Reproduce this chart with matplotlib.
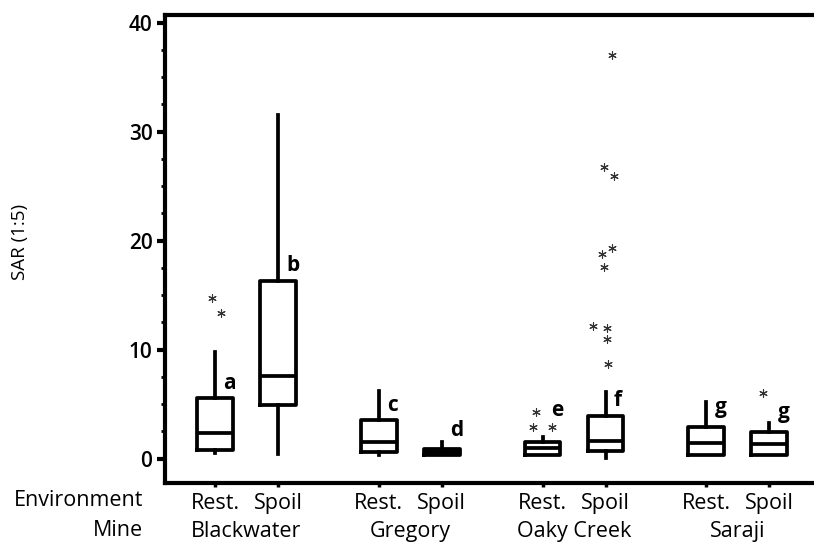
import numpy as np
import matplotlib
matplotlib.use('Agg')
import matplotlib.pyplot as plt
from matplotlib.transforms import blended_transform_factory

plt.rcParams['font.family'] = ['Open Sans', 'DejaVu Sans']

# dados
minas = ['Blackwater', 'Gregory', 'Oaky Creek', 'Saraji']
ambientes = ['Rest.', 'Spoil']
posicoes = [0, 1, 2.6, 3.6, 5.2, 6.2, 7.8, 8.8]

q1 = [0.8, 4.95, 0.6, 0.3, 0.35, 0.65, 0.3, 0.35]
mediana = [2.3, 7.55, 1.55, 0.57, 0.95, 1.65, 1.4, 1.35]
q3 = [5.6, 16.3, 3.5, 0.85, 1.5, 3.95, 2.9, 2.4]
bigode_inf = [0.55, 0.45, 0.3, 0.3, 0.35, 0.03, 0.3, 0.35]
bigode_sup = [9.75, 31.5, 6.2, 1.55, 1.95, 6.15, 5.2, 3.25]

# outliers (indice da caixa, deslocamento em x, valor)
out_caixa = [0, 0, 4, 4, 4, 5, 5, 5, 5, 5, 5, 5, 5, 5, 5, 7]
out_dx = [-0.05, 0.1, -0.1, -0.15, 0.15, 0.1, -0.02, 0.14, 0.1, -0.05, -0.03,
          -0.2, 0.02, 0.02, 0.04, -0.1]
out_val = [14.7, 13.4, 4.3, 2.9, 2.9, 37.0, 26.8, 25.9, 19.3, 18.8, 17.6,
           12.2, 11.95, 11.0, 8.7, 6.0]

letras = ['a', 'b', 'c', 'd', 'e', 'f', 'g', 'g']
letras_y = [6.9, 17.7, 4.9, 2.6, 4.4, 5.3, 4.7, 4.2]

fig = plt.figure(figsize=(8.14, 5.44), dpi=100)
ax = fig.add_axes([0.2027, 0.112, 0.7973, 0.86])

stats = []
for i in range(len(posicoes)):
    stats.append({'med': mediana[i], 'q1': q1[i], 'q3': q3[i],
                  'whislo': bigode_inf[i], 'whishi': bigode_sup[i], 'fliers': []})

estilo = dict(color='black', linewidth=2.7)
ax.bxp(stats, positions=posicoes, widths=0.57, showcaps=False,
       boxprops=estilo, medianprops=estilo, whiskerprops=estilo,
       manage_ticks=False)

ox = [posicoes[c] + d for c, d in zip(out_caixa, out_dx)]
ax.scatter(ox, out_val, marker=(6, 2, 0), s=30, color='#333333', linewidths=0.8)

for p, l, y in zip(posicoes, letras, letras_y):
    ax.text(p + 0.13, y, l, fontsize=15, fontweight='bold', ha='left', va='center')

ax.set_xlim(-0.794, 9.51)
ax.set_ylim(-2.25, 40.69)

ax.spines['right'].set_visible(False)
for s in ['left', 'top', 'bottom']:
    ax.spines[s].set_linewidth(3)

ax.set_yticks([0, 10, 20, 30, 40])
ax.set_yticks(np.arange(0, 40.1, 2.5), minor=True)
ax.tick_params(axis='y', which='major', length=6, width=3, labelsize=15, pad=3)
ax.tick_params(axis='y', which='minor', length=3, width=2)
for t in ax.get_yticklabels():
    t.set_fontweight('semibold')

ax.set_xticks(posicoes)
ax.set_xticklabels(ambientes * 4, fontsize=15.5)
ax.tick_params(axis='x', length=3, width=2.5, pad=4)

trans = blended_transform_factory(ax.transData, ax.transAxes)
for k, m in enumerate(minas):
    xm = (posicoes[2 * k] + posicoes[2 * k + 1]) / 2
    ax.text(xm, -0.103, m, fontsize=15.5, ha='center', va='center', transform=trans)

fig.text(143 / 814, 1 - 500 / 544, 'Environment', fontsize=15.5, ha='right', va='center')
fig.text(143 / 814, 1 - 531 / 544, 'Mine', fontsize=15.5, ha='right', va='center')
fig.text(20 / 814, 1 - 242 / 544, 'SAR (1:5)', fontsize=13.5, rotation=90,
         ha='center', va='center')

fig.savefig('out.png', dpi=100)
